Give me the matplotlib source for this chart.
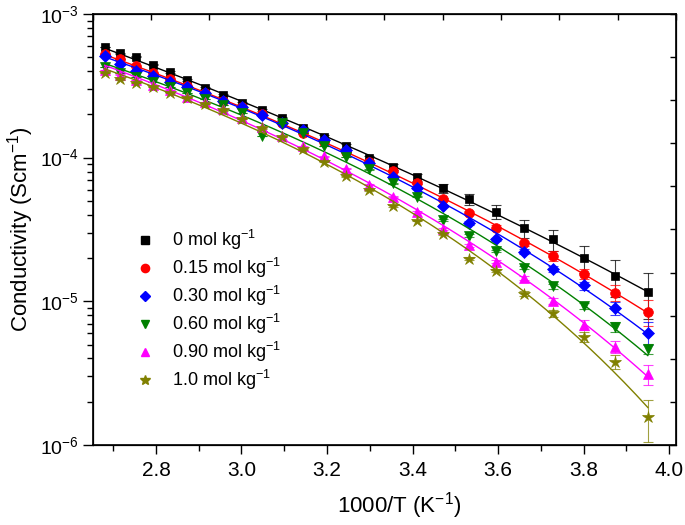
"""
Ionic conductivity vs inverse temperature for several salt concentrations,
with VTF fits (log scale).
"""

import matplotlib
matplotlib.use("Agg")
import matplotlib.pyplot as plt
import numpy as np
from matplotlib.lines import Line2D
from matplotlib.ticker import LogLocator, MultipleLocator, NullFormatter

plt.rcParams["font.family"] = ["Liberation Sans", "DejaVu Sans"]
plt.rcParams["mathtext.fontset"] = "custom"
plt.rcParams["mathtext.rm"] = "Liberation Sans"
plt.rcParams["mathtext.it"] = "Liberation Sans:italic"
plt.rcParams["mathtext.default"] = "regular"

# ── Data ──
temps_c = [100, 95, 90, 85, 80, 75, 70, 65, 60, 55, 50, 45, 40,
           35, 30, 25, 20, 15, 10, 5, 0, -5, -10, -15, -20]

labels = ["0 mol kg$^{-1}$", "0.15 mol kg$^{-1}$", "0.30 mol kg$^{-1}$",
          "0.60 mol kg$^{-1}$", "0.90 mol kg$^{-1}$", "1.0 mol kg$^{-1}$"]

sigma_0 = [5.89e-4, 5.31e-4, 5.02e-4, 4.42e-4, 3.95e-4, 3.47e-4, 3.06e-4, 2.73e-4,
           2.41e-4, 2.15e-4, 1.88e-4, 1.60e-4, 1.39e-4, 1.20e-4, 1.00e-4, 8.66e-5,
           7.28e-5, 6.10e-5, 5.13e-5, 4.21e-5, 3.24e-5, 2.70e-5, 2.01e-5, 1.51e-5, 1.16e-5]
sigma_015 = [5.24e-4, 4.84e-4, 4.31e-4, 3.89e-4, 3.50e-4, 3.13e-4, 2.80e-4, 2.48e-4,
             2.25e-4, 2.01e-4, 1.74e-4, 1.49e-4, 1.29e-4, 1.10e-4, 9.38e-5, 8.12e-5,
             6.67e-5, 5.13e-5, 4.10e-5, 3.26e-5, 2.53e-5, 2.08e-5, 1.55e-5, 1.15e-5, 8.48e-6]
sigma_030 = [5.13e-4, 4.45e-4, 4.01e-4, 3.70e-4, 3.36e-4, 3.08e-4, 2.82e-4, 2.48e-4,
             2.24e-4, 1.98e-4, 1.74e-4, 1.56e-4, 1.32e-4, 1.13e-4, 9.14e-5, 7.34e-5,
             6.13e-5, 4.61e-5, 3.51e-5, 2.70e-5, 2.21e-5, 1.68e-5, 1.29e-5, 8.95e-6, 6.06e-6]
sigma_060 = [4.28e-4, 3.87e-4, 3.66e-4, 3.38e-4, 3.12e-4, 2.81e-4, 2.56e-4, 2.33e-4,
             2.04e-4, 1.42e-4, 1.74e-4, 1.48e-4, 1.20e-4, 1.01e-4, 8.28e-5, 6.64e-5,
             5.33e-5, 3.67e-5, 2.87e-5, 2.24e-5, 1.71e-5, 1.27e-5, 9.29e-6, 6.60e-6, 4.64e-6]
sigma_090 = [4.08e-4, 3.79e-4, 3.47e-4, 3.22e-4, 2.96e-4, 2.66e-4, 2.45e-4, 2.18e-4,
             1.89e-4, 1.64e-4, 1.41e-4, 1.20e-4, 1.02e-4, 8.39e-5, 6.49e-5, 5.33e-5,
             4.19e-5, 3.19e-5, 2.45e-5, 1.89e-5, 1.45e-5, 1.01e-5, 6.85e-6, 4.84e-6, 3.13e-6]
sigma_10 = [3.89e-4, 3.50e-4, 3.31e-4, 3.10e-4, 2.84e-4, 2.60e-4, 2.36e-4, 2.13e-4,
            1.86e-4, 1.60e-4, 1.39e-4, 1.14e-4, 9.38e-5, 7.42e-5, 5.91e-5, 4.61e-5,
            3.64e-5, 2.96e-5, 1.98e-5, 1.63e-5, 1.13e-5, 8.27e-6, 5.68e-6, 3.81e-6, 1.56e-6]

err_0 = [4.0e-6, 4.2e-6, 3.9e-6, 4.1e-6, 4.3e-6, 4.0e-6, 4.2e-6, 4.4e-6, 4.1e-6,
         4.3e-6, 4.0e-6, 4.2e-6, 4.5e-6, 3.8e-6, 3.2e-6, 4.2e-6, 4.1e-6, 4.4e-6,
         4.5e-6, 4.9e-6, 4.7e-6, 4.6e-6, 4.3e-6, 4.3e-6, 4.1e-6]
err_015 = [1.4e-6, 1.3e-6, 1.5e-6, 1.4e-6, 1.3e-6, 1.5e-6, 1.4e-6, 1.3e-6, 1.4e-6,
           1.5e-6, 1.3e-6, 1.4e-6, 1.3e-6, 1.4e-6, 1.5e-6, 1.3e-6, 1.4e-6, 1.3e-6,
           1.4e-6, 1.3e-6, 1.2e-6, 1.7e-6, 1.24e-6, 1.5e-6, 1.7e-6]
err_030 = [0.9e-6, 0.8e-6, 0.9e-6, 1.0e-6, 0.9e-6, 0.8e-6, 0.9e-6, 1.0e-6, 0.9e-6,
           0.8e-6, 0.9e-6, 0.9e-6, 1.0e-6, 0.8e-6, 0.9e-6, 0.9e-6, 0.8e-6, 1.0e-6,
           0.9e-6, 0.8e-6, 0.9e-6, 0.9e-6, 0.83e-6, 0.9e-6, 1.07e-6]
err_060 = [0.45e-6, 0.40e-6, 0.50e-6, 0.45e-6, 0.40e-6, 0.45e-6, 0.50e-6, 0.45e-6,
           0.40e-6, 0.45e-6, 0.50e-6, 0.45e-6, 0.40e-6, 0.45e-6, 0.50e-6, 0.45e-6,
           0.40e-6, 0.45e-6, 0.50e-6, 0.45e-6, 0.40e-6, 0.45e-6, 0.45e-6, 0.53e-6, 0.37e-6]
err_090 = [0.50e-6, 0.45e-6, 0.55e-6, 0.50e-6, 0.45e-6, 0.50e-6, 0.55e-6, 0.50e-6,
           0.45e-6, 0.50e-6, 0.55e-6, 0.50e-6, 0.45e-6, 0.50e-6, 0.55e-6, 0.50e-6,
           0.45e-6, 0.50e-6, 0.55e-6, 0.50e-6, 0.45e-6, 0.50e-6, 0.55e-6, 0.46e-6, 0.50e-6]
err_10 = [0.45e-6, 0.50e-6, 0.45e-6, 0.40e-6, 0.45e-6, 0.50e-6, 0.45e-6, 0.40e-6,
          0.45e-6, 0.50e-6, 0.45e-6, 0.40e-6, 0.45e-6, 0.50e-6, 0.45e-6, 0.40e-6,
          0.45e-6, 0.50e-6, 0.45e-6, 0.40e-6, 0.45e-6, 0.50e-6, 0.45e-6, 0.41e-6, 0.51e-6]

series = [sigma_0, sigma_015, sigma_030, sigma_060, sigma_090, sigma_10]
errors = [err_0, err_015, err_030, err_060, err_090, err_10]
colors = ["#000000", "#FF0000", "#0000FF", "#008000", "#FF00FF", "#808000"]
markers = ["s", "o", "D", "v", "^", "*"]
msizes = [6.2, 7.0, 5.8, 7.4, 7.4, 8.8]


def vtf_fit(temps, sigma):
    """VTF fit ln(sigma) = a - b/(T - T0); grid over T0, linear LSQ."""
    ln_s = np.log(sigma)
    best = None
    for t0 in np.arange(100.0, 245.0, 0.5):
        X = np.column_stack([np.ones_like(temps), -1.0 / (temps - t0)])
        coef, *_ = np.linalg.lstsq(X, ln_s, rcond=None)
        sse = np.sum((X @ coef - ln_s) ** 2)
        if best is None or sse < best[0]:
            best = (sse, t0, coef)
    return best[1], best[2]


temps_k = np.array(temps_c, dtype=float) + 273.15
inv_t = 1000.0 / temps_k
t_fine = np.linspace(temps_k.min(), temps_k.max(), 200)

fig = plt.figure(figsize=(6.85, 5.25), dpi=100)
ax = fig.add_axes([0.1353, 0.1524, 0.8515, 0.8210])

handles = []
for sig, err, col, mk, ms, lab in zip(series, errors, colors, markers, msizes, labels):
    sig = np.array(sig)
    t0, (a, b) = vtf_fit(temps_k, sig)
    ax.plot(1000.0 / t_fine, np.exp(a - b / (t_fine - t0)), color=col, lw=1.0)
    ax.errorbar(inv_t, sig, yerr=err, fmt="none", ecolor=col, elinewidth=0.8,
                capsize=3.5, capthick=0.8, alpha=0.75)
    ax.plot(inv_t, sig, linestyle="none", marker=mk, ms=ms, color=col,
            markeredgewidth=0.5)
    handles.append(Line2D([], [], linestyle="none", marker=mk, ms=ms * 0.85,
                          color=col, label=lab))

ax.set_yscale("log")
ax.set_xlim(2.652, 4.016)
ax.set_ylim(1e-6, 1e-3)

ax.xaxis.set_major_locator(MultipleLocator(0.2))
ax.xaxis.set_minor_locator(MultipleLocator(0.1))
ax.xaxis.set_major_formatter(matplotlib.ticker.FormatStrFormatter("%.1f"))
ax.yaxis.set_major_locator(LogLocator(base=10, numticks=10))
ax.yaxis.set_minor_locator(LogLocator(base=10, subs=np.arange(2, 10), numticks=10))
ax.yaxis.set_minor_formatter(NullFormatter())

ax.tick_params(axis="x", which="major", direction="out", length=6.5, width=1.0,
               labelsize=15, pad=5)
ax.tick_params(axis="x", which="minor", direction="out", length=4, width=1.0)
ax.tick_params(axis="y", which="major", direction="out", length=7, width=1.0,
               labelsize=14, pad=3)
ax.tick_params(axis="y", which="minor", direction="out", length=4.5, width=1.0)
for sp in ax.spines.values():
    sp.set_linewidth(1.2)

# top and right axes carry plain evenly spaced ticks
ax_top = ax.twiny()
ax_top.set_xlim(0, 10)
ax_top.set_xticks(range(11))
ax_top.tick_params(axis="x", direction="in", length=4.5, width=1.0, labeltop=False)
ax_right = ax.twinx()
ax_right.set_ylim(0, 10)
ax_right.set_yticks(range(11))
ax_right.tick_params(axis="y", direction="in", length=4.5, width=1.0, labelright=False)

ax.set_xlabel("1000/T (K$^{-1}$)", fontsize=16, labelpad=8)
ax.xaxis.set_label_coords(0.525, -0.105)
ax.set_ylabel("Conductivity (Scm$^{-1}$)", fontsize=16, labelpad=3)

ax.legend(handles=handles, loc="upper left", frameon=False, fontsize=13,
          handlelength=1.0, handletextpad=1.0, labelspacing=0.22,
          borderpad=0, borderaxespad=0,
          bbox_to_anchor=(136 / 685, 1 - 228 / 525), bbox_transform=fig.transFigure)

fig.savefig("out.png", dpi=100)
